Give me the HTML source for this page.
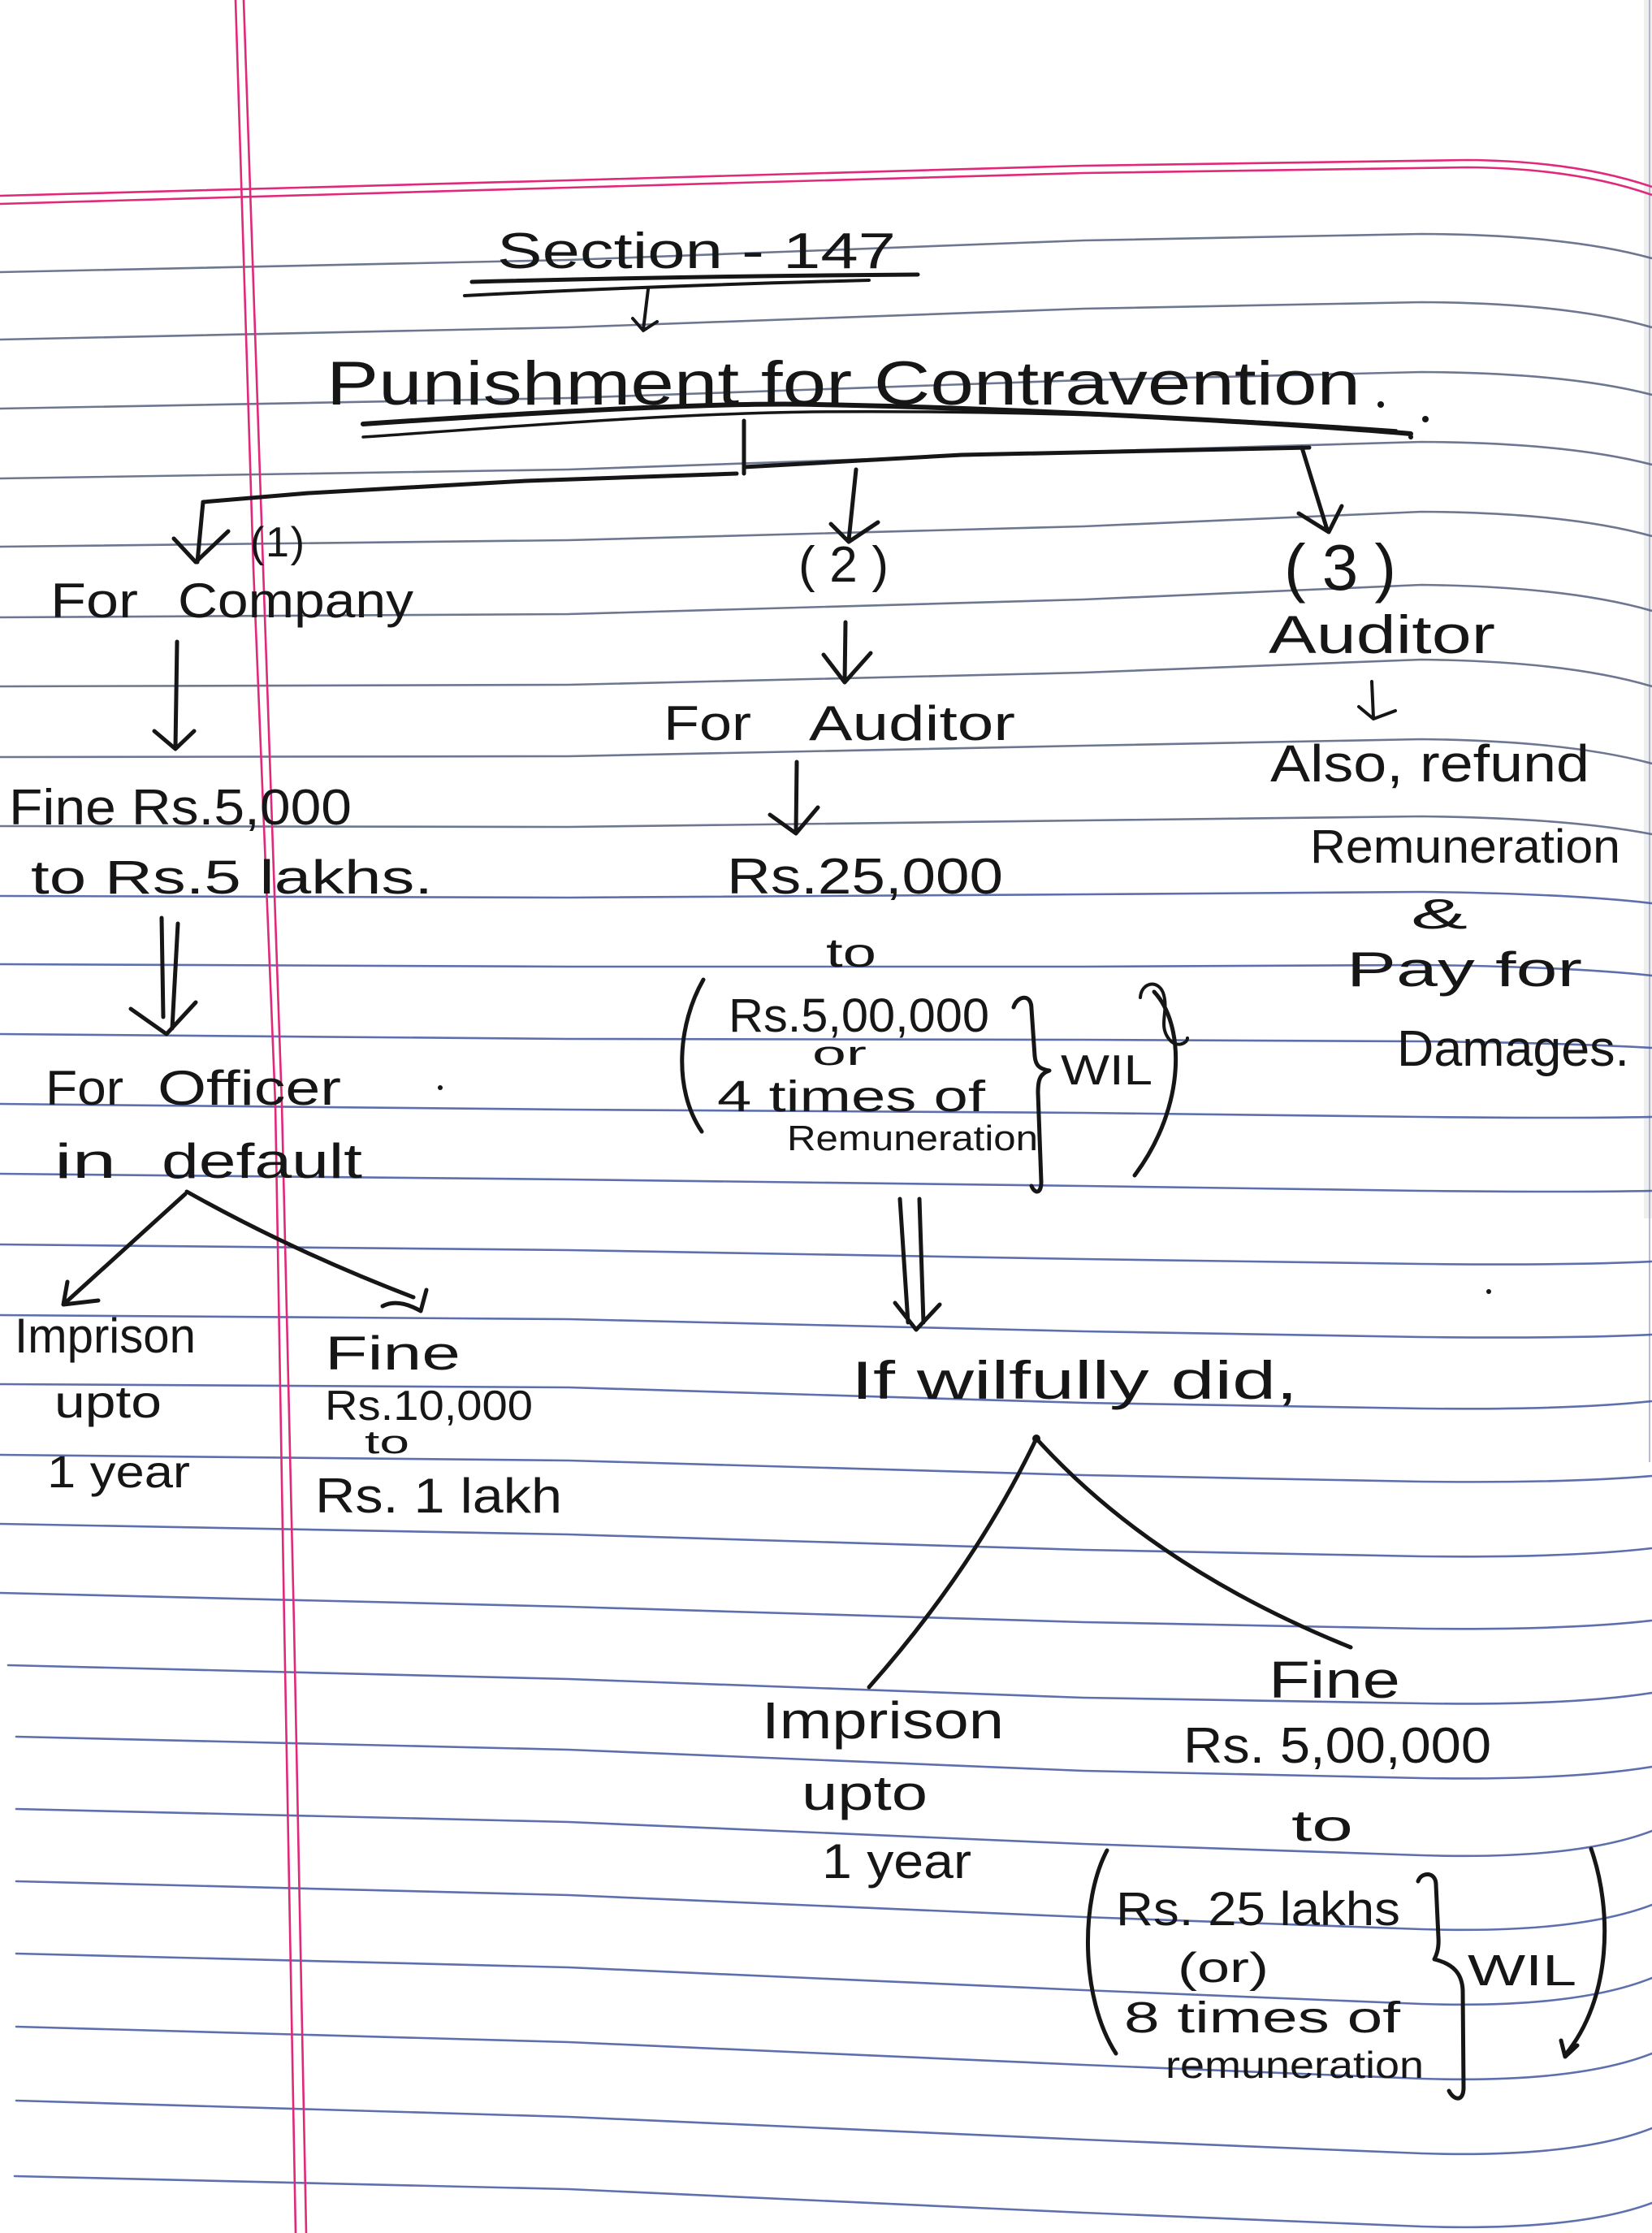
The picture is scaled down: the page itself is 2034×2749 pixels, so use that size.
<!DOCTYPE html>
<html>
<head>
<meta charset="utf-8">
<style>
html,body{margin:0;padding:0;background:#fff;}
svg{display:block;}
text{font-family:"Liberation Sans","DejaVu Sans",sans-serif;fill:#161616;}
</style>
</head>
<body>
<svg width="2034" height="2749" viewBox="0 0 2034 2749" xmlns="http://www.w3.org/2000/svg">
<rect x="0" y="0" width="2034" height="2749" fill="#ffffff"/>
<rect x="2024" y="0" width="10" height="1500" fill="#e4e4e4" opacity="0.6"/>
<path d="M2031,0 L2031,1800" stroke="#9aa0b8" stroke-width="2" fill="none" opacity="0.7"/>

<!-- ruled lines -->
<g fill="none" stroke-width="2.6" stroke-linecap="round" opacity="0.85">
<g stroke="#55607e">
<path d="M0,335 L700,320 L1334,296 L1750,288 Q1930,289 2034,318"/>
<path d="M0,418 L700,403 L1334,380 L1750,372 Q1930,373 2034,403"/>
<path d="M0,503 L700,490 L1334,468 L1750,458 Q1930,459 2034,486"/>
<path d="M0,589 L700,578 L1334,556 L1750,544 Q1930,545 2034,572"/>
<path d="M0,673 L700,665 L1334,648 L1750,630 Q1930,631 2034,660"/>
<path d="M0,760 L700,756 L1334,738 L1750,720 Q1930,722 2034,752"/>
<path d="M0,845 L700,843 L1334,828 L1750,812 Q1930,814 2034,845"/>
<path d="M0,932 L700,931 L1334,918 L1750,910 Q1930,912 2034,940"/>
<path d="M0,1017 L700,1018 L1334,1010 L1750,1005 Q1930,1007 2034,1027"/>
</g>
<g stroke="#42579f">
<path d="M0,1103 L700,1105 L1334,1101 L1750,1098 Q1930,1100 2034,1112"/>
<path d="M0,1187 L700,1190 L1334,1190 L1750,1188 Q1930,1190 2034,1201"/>
<path d="M0,1273 L700,1279 L1334,1280 L1750,1282 Q1930,1284 2034,1290"/>
<path d="M0,1359 L700,1366 L1334,1370 L1750,1375 Q1930,1377 2034,1375"/>
<path d="M0,1445 L700,1452 L1334,1460 L1750,1466 Q1930,1468 2034,1466"/>
<path d="M0,1532 L700,1539 L1334,1550 L1750,1556 Q1930,1558 2034,1553"/>
<path d="M0,1619 L700,1624 L1334,1639 L1750,1646 Q1930,1648 2034,1643"/>
<path d="M0,1704 L700,1708 L1334,1727 L1750,1734 Q1930,1736 2034,1725"/>
<path d="M0,1791 L700,1798 L1334,1816 L1750,1824 Q1930,1826 2034,1817"/>
<path d="M0,1876 L700,1889 L1334,1908 L1750,1916 Q1930,1918 2034,1906"/>
<path d="M0,1961 L700,1978 L1334,1997 L1750,2005 Q1930,2007 2034,1995"/>
<path d="M10,2050 L700,2067 L1334,2090 L1750,2097 Q1930,2100 2034,2084"/>
<path d="M20,2138 L700,2154 L1334,2180 L1750,2189 Q1930,2192 2034,2175"/>
<path d="M20,2227 L700,2243 L1334,2270 L1750,2284 Q1940,2290 2034,2254"/>
<path d="M20,2316 L700,2333 L1334,2360 L1750,2375 Q1940,2381 2034,2345"/>
<path d="M20,2405 L700,2422 L1334,2450 L1750,2467 Q1940,2473 2034,2435"/>
<path d="M20,2495 L700,2514 L1334,2542 L1750,2559 Q1940,2565 2034,2528"/>
<path d="M20,2586 L700,2606 L1334,2634 L1750,2651 Q1940,2657 2034,2620"/>
<path d="M18,2679 L700,2695 L1334,2724 L1750,2741 Q1940,2747 2034,2712"/>
</g>
</g>

<!-- red margin lines -->
<g fill="none" stroke="#e0297b" stroke-width="2.6">
<path d="M0,241 L700,222 L1334,204 L1806,197 Q1940,198 2034,230"/>
<path d="M0,251 L700,231 L1334,213 L1806,206 Q1940,207 2034,240"/>
<path d="M290,0 L312,700 L339,1359 L350,2000 L364,2749"/>
<path d="M300,0 L324,700 L347,1359 L362,2000 L377,2749"/>
</g>

<!-- ink strokes -->
<g fill="none" stroke="#161616" stroke-width="5" stroke-linecap="round" stroke-linejoin="round">
<path d="M581,347 Q850,340 1130,338"/>
<path d="M572,364 Q800,352 1070,345" stroke-width="4"/>
<path d="M798,356 L792,406 M779,392 L792,407 L809,396" stroke-width="4"/>
<path d="M447,522 C700,505 900,495 1005,498 C1250,502 1600,522 1737,534" stroke-width="6"/>
<path d="M447,538 C600,528 800,510 1000,507 C1250,505 1500,514 1719,530" stroke-width="3.5"/>
<path d="M916,518 L916,583"/>
<path d="M243,692 L250,618 L380,607 L648,592 L907,583"/>
<path d="M916,575 L1184,560 L1612,551"/>
<path d="M214,663 L241,692 L281,654"/>
<path d="M1054,578 L1045,665 M1023,645 L1045,667 L1081,643"/>
<path d="M1603,551 L1634,652 M1599,632 L1636,655 L1652,623"/>
<path d="M1689,839 L1691,884 M1673,870 L1691,885 L1718,875" stroke-width="4"/>
<path d="M1041,766 L1040,839 M1014,806 L1040,840 L1072,804"/>
<path d="M981,938 L980,1025 M948,1003 L980,1026 L1007,994"/>
<path d="M866,1206 C835,1260 828,1340 864,1393"/>
<path d="M1248,1240 C1252,1226 1270,1222 1270,1242 L1274,1300 C1275,1312 1280,1316 1292,1318 C1280,1322 1278,1330 1278,1345 L1282,1455 C1282,1470 1274,1470 1270,1460"/>
<path d="M1421,1221 C1458,1260 1462,1360 1397,1447"/>
<path d="M1404,1228 C1405,1210 1425,1205 1432,1222 C1440,1245 1425,1262 1440,1280 C1448,1290 1462,1285 1462,1278" stroke-width="4"/>
<path d="M1108,1476 L1118,1628 M1132,1476 L1137,1628 M1102,1604 L1128,1637 L1157,1606"/>
<path d="M1276,1771 Q1200,1930 1070,2077"/>
<path d="M1276,1771 Q1420,1930 1663,2028"/>
<path d="M1363,2278 C1330,2340 1330,2460 1374,2528"/>
<path d="M1746,2316 C1750,2304 1768,2304 1768,2320 L1771,2385 C1772,2400 1768,2408 1766,2412 C1790,2418 1800,2430 1801,2450 L1802,2570 C1802,2588 1790,2586 1784,2574"/>
<path d="M1959,2276 C1985,2350 1985,2460 1927,2530 M1922,2512 L1927,2532 L1942,2518"/>
<path d="M218,790 L216,920 M190,900 L216,922 L239,900"/>
<path d="M199,1130 L201,1252 M219,1137 L212,1266 M161,1242 L205,1273 L241,1234"/>
<path d="M228,1470 L78,1606 M83,1578 L78,1606 L121,1601"/>
<path d="M230,1467 Q360,1540 509,1597"/>
<path d="M471,1608 Q490,1598 518,1614 L525,1588"/>
</g>
<g fill="#161616">
<circle cx="1276" cy="1771" r="5"/>
<circle cx="1700" cy="498" r="4"/>
<circle cx="1755" cy="516" r="4"/>
<circle cx="1737" cy="538" r="3"/>
<circle cx="542" cy="1339" r="3"/>
<circle cx="1833" cy="1590" r="3"/>
</g>

<!-- text -->
<text x="612" y="330" font-size="62" textLength="491" lengthAdjust="spacingAndGlyphs">Section - 147</text>
<text x="402" y="498" font-size="76" textLength="1273" lengthAdjust="spacingAndGlyphs">Punishment for Contravention</text>

<text x="308" y="685" font-size="52" textLength="67" lengthAdjust="spacing">(1)</text>
<text x="983" y="716" font-size="62" textLength="111" lengthAdjust="spacing">(2)</text>
<text x="1581" y="726" font-size="80" textLength="138" lengthAdjust="spacing">(3)</text>

<text x="1562" y="804" font-size="66" textLength="279" lengthAdjust="spacingAndGlyphs">Auditor</text>
<text x="1564" y="962" font-size="64" textLength="393" lengthAdjust="spacingAndGlyphs">Also, refund</text>
<text x="1613" y="1062" font-size="58" textLength="382" lengthAdjust="spacingAndGlyphs">Remuneration</text>
<text x="1737" y="1143" font-size="52" textLength="70" lengthAdjust="spacingAndGlyphs">&amp;</text>
<text x="1658" y="1214" font-size="60" textLength="290" lengthAdjust="spacingAndGlyphs">Pay for</text>
<text x="1720" y="1312" font-size="62" textLength="286" lengthAdjust="spacingAndGlyphs">Damages.</text>

<text x="817" y="911" font-size="60" textLength="108" lengthAdjust="spacingAndGlyphs">For</text>
<text x="996" y="911" font-size="60" textLength="254" lengthAdjust="spacingAndGlyphs">Auditor</text>
<text x="895" y="1100" font-size="62" textLength="340" lengthAdjust="spacingAndGlyphs">Rs.25,000</text>
<text x="1017" y="1190" font-size="50" textLength="62" lengthAdjust="spacingAndGlyphs">to</text>
<text x="897" y="1270" font-size="58" textLength="321" lengthAdjust="spacingAndGlyphs">Rs.5,00,000</text>
<text x="1000" y="1311" font-size="42" textLength="67" lengthAdjust="spacingAndGlyphs">or</text>
<text x="883" y="1368" font-size="54" textLength="330" lengthAdjust="spacingAndGlyphs">4 times of</text>
<text x="969" y="1416" font-size="44" textLength="309" lengthAdjust="spacingAndGlyphs">Remuneration</text>
<text x="1306" y="1335" font-size="52" textLength="113" lengthAdjust="spacingAndGlyphs">WIL</text>

<text x="1048" y="1722" font-size="66" textLength="550" lengthAdjust="spacingAndGlyphs">If wilfully did,</text>
<text x="938" y="2140" font-size="64" textLength="298" lengthAdjust="spacingAndGlyphs">Imprison</text>
<text x="987" y="2228" font-size="60" textLength="155" lengthAdjust="spacingAndGlyphs">upto</text>
<text x="1012" y="2312" font-size="60" textLength="184" lengthAdjust="spacingAndGlyphs">1 year</text>
<text x="1562" y="2090" font-size="64" textLength="162" lengthAdjust="spacingAndGlyphs">Fine</text>
<text x="1457" y="2170" font-size="62" textLength="379" lengthAdjust="spacingAndGlyphs">Rs. 5,00,000</text>
<text x="1590" y="2266" font-size="54" textLength="76" lengthAdjust="spacingAndGlyphs">to</text>
<text x="1374" y="2370" font-size="58" textLength="350" lengthAdjust="spacingAndGlyphs">Rs. 25 lakhs</text>
<text x="1450" y="2440" font-size="52" textLength="112" lengthAdjust="spacingAndGlyphs">(or)</text>
<text x="1807" y="2444" font-size="54" textLength="134" lengthAdjust="spacingAndGlyphs">WIL</text>
<text x="1384" y="2502" font-size="54" textLength="340" lengthAdjust="spacingAndGlyphs">8 times of</text>
<text x="1435" y="2558" font-size="46" textLength="318" lengthAdjust="spacingAndGlyphs">remuneration</text>

<text x="62" y="760" font-size="60" textLength="108" lengthAdjust="spacingAndGlyphs">For</text>
<text x="219" y="760" font-size="60" textLength="290" lengthAdjust="spacingAndGlyphs">Company</text>
<text x="11" y="1015" font-size="62" textLength="422" lengthAdjust="spacingAndGlyphs">Fine Rs.5,000</text>
<text x="38" y="1100" font-size="58" textLength="495" lengthAdjust="spacingAndGlyphs">to Rs.5 lakhs.</text>
<text x="56" y="1360" font-size="60" textLength="96" lengthAdjust="spacingAndGlyphs">For</text>
<text x="194" y="1360" font-size="60" textLength="226" lengthAdjust="spacingAndGlyphs">Officer</text>
<text x="67" y="1450" font-size="60" textLength="76" lengthAdjust="spacingAndGlyphs">in</text>
<text x="199" y="1450" font-size="60" textLength="247" lengthAdjust="spacingAndGlyphs">default</text>
<text x="18" y="1665" font-size="60" textLength="223" lengthAdjust="spacingAndGlyphs">Imprison</text>
<text x="67" y="1745" font-size="56" textLength="132" lengthAdjust="spacingAndGlyphs">upto</text>
<text x="58" y="1831" font-size="56" textLength="176" lengthAdjust="spacingAndGlyphs">1 year</text>
<text x="400" y="1686" font-size="58" textLength="167" lengthAdjust="spacingAndGlyphs">Fine</text>
<text x="400" y="1748" font-size="52" textLength="256" lengthAdjust="spacingAndGlyphs">Rs.10,000</text>
<text x="449" y="1789" font-size="40" textLength="55" lengthAdjust="spacingAndGlyphs">to</text>
<text x="388" y="1862" font-size="60" textLength="304" lengthAdjust="spacingAndGlyphs">Rs. 1 lakh</text>
</svg>
</body>
</html>
